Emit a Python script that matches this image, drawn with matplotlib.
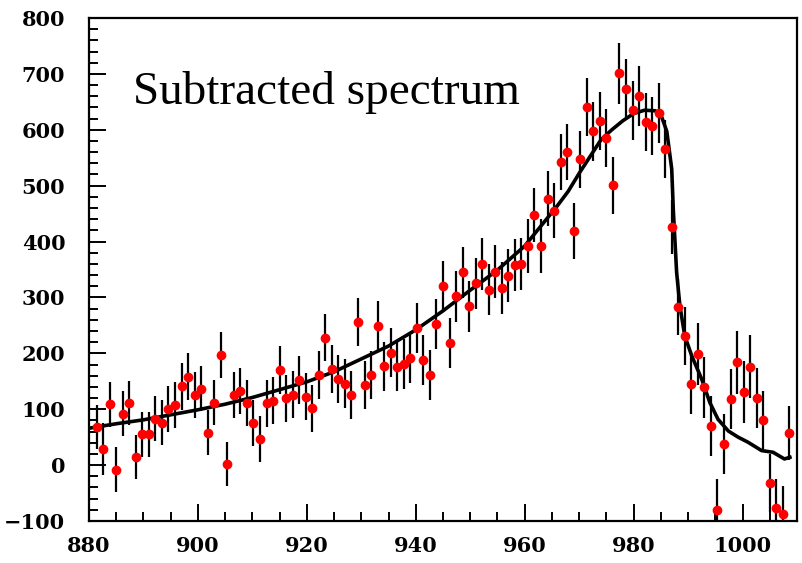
import matplotlib
matplotlib.use("Agg")
import matplotlib.pyplot as plt
from matplotlib.ticker import MultipleLocator
import numpy as np

# histogram: first bin centre and bin width (MeV), then the subtracted counts
first_centre = 881.4
bin_width = 1.2
counts = [68, 29, 109, -8, 92, 111, 15, 55, 55, 83,
          76, 101, 108, 141, 158, 125, 137, 58, 112, 197,
          2, 126, 133, 111, 75, 46, 111, 115, 170, 120,
          126, 153, 122, 102, 161, 228, 172, 154, 146, 126,
          256, 143, 162, 249, 177, 201, 176, 181, 191, 245,
          188, 161, 252, 320, 218, 302, 345, 284, 325, 360,
          314, 346, 317, 339, 358, 360, 392, 447, 392, 477,
          455, 543, 561, 419, 547, 641, 597, 615, 585, 501,
          701, 673, 635, 661, 614, 606, 630, 566, 426, 283,
          231, 145, 199, 139, 70, -80, 38, 118, 184, 131,
          176, 120, 80, -32, -76, -88, 58]
errors = [40, 46, 40, 40, 40, 40, 39, 40, 40, 40,
          40, 41, 41, 42, 42, 41, 41, 40, 41, 42,
          39, 41, 41, 41, 41, 41, 42, 42, 43, 42,
          42, 43, 42, 42, 43, 42, 43, 43, 43, 43,
          43, 43, 43, 44, 44, 44, 44, 44, 44, 45,
          45, 45, 45, 46, 45, 46, 46, 46, 46, 47,
          46, 47, 47, 47, 47, 47, 48, 48, 48, 49,
          49, 50, 50, 50, 51, 52, 52, 52, 52, 51,
          55, 54, 53, 54, 52, 52, 53, 52, 48, 50,
          52, 54, 55, 54, 53, 55, 54, 54, 56, 55,
          56, 54, 52, 52, 52, 50, 48]

# fitted line shape
fit_x = [880, 885, 890, 895, 900, 905, 910, 915, 920, 925,
         930, 935, 940, 945, 950, 955, 960, 963, 966, 968,
         970, 972, 974, 976, 978, 980, 982, 984, 985.2, 986.1,
         987.0, 987.3, 987.9, 988.5, 989.4, 990.7, 992.5, 994, 995.5, 997.4,
         999.2, 1001, 1003.5, 1005.6, 1007.7, 1008.7]
fit_y = [66, 74, 81, 90, 99, 109, 121, 135, 149, 167,
         190, 213, 242, 276, 313, 349, 392, 428, 464, 490,
         522, 552, 582, 600, 616, 629, 635, 634, 622, 597,
         530, 455, 345, 285, 231, 195, 154, 112, 82, 61,
         50, 41, 26, 23, 11, 14]

bins = first_centre + bin_width * np.arange(len(counts))

fig = plt.figure(figsize=(8.03, 5.63), dpi=100)
ax = fig.add_axes([0.1108, 0.0746, 0.8817, 0.8934])

ax.errorbar(bins, counts, yerr=errors, fmt="none", ecolor="black",
            elinewidth=1.6, capsize=0, zorder=2)
ax.plot(fit_x, fit_y, color="black", lw=2.6, zorder=3)
ax.plot(bins, counts, "o", color="red", markersize=6, zorder=4)

ax.set_xlim(880, 1010)
ax.set_ylim(-100, 800)

ax.xaxis.set_major_locator(MultipleLocator(20))
ax.xaxis.set_minor_locator(MultipleLocator(5))
ax.yaxis.set_major_locator(MultipleLocator(100))
ax.yaxis.set_minor_locator(MultipleLocator(20))
ax.tick_params(which="both", direction="in", width=1.4, colors="black")
ax.tick_params(which="major", length=12)
ax.tick_params(which="minor", length=6.5)
ax.tick_params(axis="x", pad=11)
ax.tick_params(axis="y", pad=17)
for lab in ax.get_xticklabels() + ax.get_yticklabels():
    lab.set_fontfamily("DejaVu Serif")
    lab.set_fontweight("bold")
    lab.set_fontsize(15)
for sp in ax.spines.values():
    sp.set_linewidth(1.6)

ax.text(0.062, 0.83, "Subtracted spectrum", transform=ax.transAxes,
        fontsize=34, family="Liberation Serif", va="baseline", ha="left")

fig.savefig("out.png", dpi=100)
